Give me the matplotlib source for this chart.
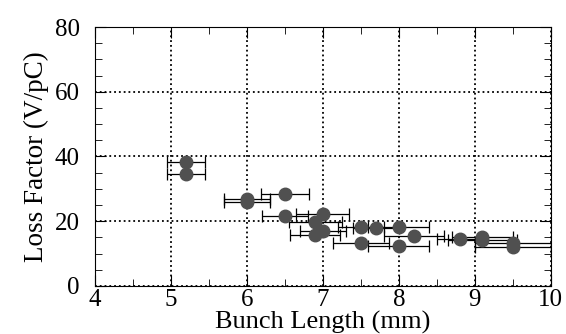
import numpy as np
import matplotlib.pyplot as plt
from matplotlib.ticker import MultipleLocator

# bunch length (mm), loss factor (V/pC), horizontal error (mm)
bunch = [5.2, 5.2, 6.0, 6.0, 6.5, 6.5, 6.9, 7.0, 6.9, 7.0, 7.5, 7.5, 7.7, 8.0, 8.0, 8.2, 8.8, 9.1, 9.1, 9.5, 9.5]
loss = [38.2, 34.5, 27.0, 26.0, 28.4, 21.6, 19.8, 22.2, 15.6, 17.0, 18.3, 13.4, 17.9, 18.3, 12.2, 15.3, 14.5, 15.2, 14.3, 13.2, 12.0]
xerr = [0.25, 0.25, 0.3, 0.3, 0.32, 0.3, 0.35, 0.35, 0.33, 0.3, 0.3, 0.37, 0.3, 0.4, 0.4, 0.4, 0.3, 0.4, 0.45, 0.5, 0.5]

plt.rcParams['font.family'] = 'Liberation Serif'

fig = plt.figure(figsize=(5.66, 3.34), dpi=100)
ax = fig.add_axes([0.168, 0.144, 0.805, 0.775])

ax.errorbar(bunch, loss, xerr=xerr, fmt='o', color='#505050', ms=9,
            ecolor='black', elinewidth=0.9, capsize=4, capthick=0.9, zorder=3)

ax.set_xlim(4, 10)
ax.set_ylim(0, 80)
ax.xaxis.set_major_locator(MultipleLocator(1))
ax.xaxis.set_minor_locator(MultipleLocator(0.5))
ax.yaxis.set_major_locator(MultipleLocator(20))
ax.yaxis.set_minor_locator(MultipleLocator(5))
ax.tick_params(which='both', direction='in', top=True, right=True, labelsize=18)
ax.tick_params(axis='x', pad=2)
ax.tick_params(axis='y', pad=11)
ax.tick_params(which='major', length=8)
ax.tick_params(which='minor', length=5)
ax.grid(True, which='major', linestyle=':', color='black', linewidth=1.3)

ax.set_xlabel('Bunch Length (mm)', fontsize=19, labelpad=0)
ax.set_ylabel('Loss Factor (V/pC)', fontsize=19.5, labelpad=4)

fig.savefig('out.png', dpi=100)
